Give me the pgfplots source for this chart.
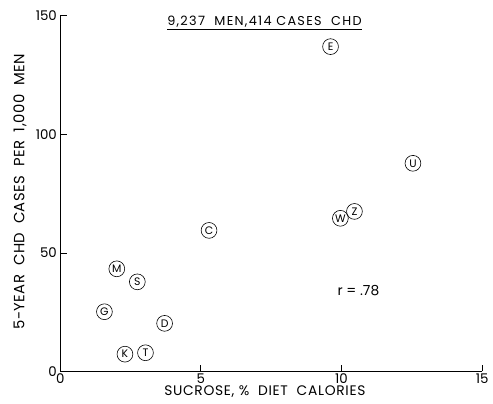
\documentclass[border=0pt]{standalone}
\usepackage{fontspec}
\setmainfont{Poppins}
\usepackage{pgfplots}
\pgfplotsset{compat=1.18}
\begin{document}
\begin{tikzpicture}
\begin{axis}[
  width=427pt, height=360pt, scale only axis,
  xmin=0, xmax=15, ymin=0, ymax=150,
  axis lines*=left,
  axis line style={line width=0.9pt},
  xtick={0,5,10,15}, ytick={0,50,100,150},
  tick align=inside, major tick length=7pt,
  tick style={black, line width=0.8pt},
  /pgf/number format/assume math mode=true,
  ticklabel style={font=\fontsize{13.5}{15}\selectfont},
  xticklabel style={anchor=north, inner sep=0pt, yshift=-2pt},
  xlabel={SUCROSE, \% \ DIET \ CALORIES},
  ylabel={5-YEAR \ CHD \ CASES \ PER \ 1,000 \ MEN},
  xlabel style={font=\fontsize{14}{16}\selectfont\addfontfeatures{LetterSpace=5},
    at={(axis description cs:0.485,-0.04)}, anchor=north, inner sep=0pt},
  ylabel style={font=\fontsize{15}{17}\selectfont\addfontfeatures{LetterSpace=3},
    at={(axis description cs:-0.072,0.505)}, anchor=south},
  clip=false,
]
\addplot[only marks, mark=none,
  nodes near coords, point meta=explicit symbolic,
  nodes near coords style={circle, draw, line width=0.6pt, inner sep=0pt,
    minimum size=16pt, anchor=center, font=\fontsize{11}{11}\selectfont}]
  table[meta=label] {
  x     y     label
  5.29  59.5  C
  2.01  43.3  M
  2.74  37.8  S
  1.57  25.2  G
  3.71  20.3  D
  2.30  7.3   K
  3.03  7.9   T
  9.61  137.0 E
  12.54 87.8  U
  9.96  64.6  W
  10.46 67.5  Z
  };
\node[font=\fontsize{13}{15}\selectfont\addfontfeatures{LetterSpace=10}] at (axis cs:7.26,147)
  {\underline{9,237 \ MEN,414 CASES \ CHD}};
\node[font=\fontsize{14}{16}\selectfont] at (axis cs:10.6,34) {r = .78};
\coordinate (O) at (axis cs:0,0);
\end{axis}
\pgfresetboundingbox
\path (O) ++(-61pt,-32pt) rectangle ++(499pt,408pt);
\end{tikzpicture}
\end{document}
